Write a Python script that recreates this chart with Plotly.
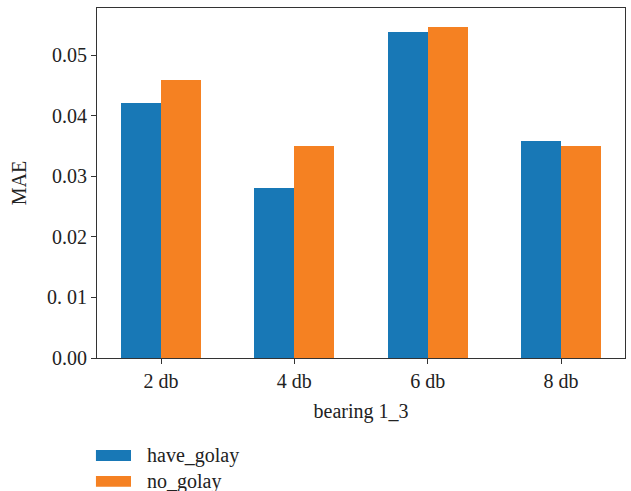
import plotly.graph_objects as go

# MAE per noise level, bearing 1_3
categories = ["2 db", "4 db", "6 db", "8 db"]
series_names = ["have_golay", "no_golay"]
have_golay = [0.0421, 0.0280, 0.0538, 0.0359]
no_golay = [0.0459, 0.0350, 0.0546, 0.0350]
y_tick_values = [0.00, 0.01, 0.02, 0.03, 0.04, 0.05]
y_tick_labels = ["0.00", "0. 01", "0.02", "0.03", "0.04", "0.05"]

colors = ["#1878b6", "#f58122"]
font_family = "Liberation Serif"
text_color = "#222222"
bar_w = 0.3

x_idx = list(range(len(categories)))

fig = go.Figure()
for name, vals, col, off in zip(series_names, [have_golay, no_golay], colors,
                                [-bar_w / 2, bar_w / 2]):
    fig.add_trace(go.Bar(
        x=[i + off for i in x_idx], y=vals, name=name, width=bar_w,
        marker=dict(color=col, line=dict(width=0)), showlegend=False,
    ))

axis_common = dict(showline=True, linecolor="#333333", linewidth=1.2, mirror=True,
                   ticks="outside", ticklen=5, tickwidth=1, tickcolor="#333333",
                   showgrid=False, zeroline=False,
                   tickfont=dict(family=font_family, size=20, color=text_color))

fig.update_xaxes(range=[-0.48, 3.48], tickvals=x_idx, ticktext=categories,
                 title=dict(text="bearing 1_3", standoff=12,
                            font=dict(family=font_family, size=20, color=text_color)),
                 **axis_common)
fig.update_yaxes(range=[0, 0.0578], tickvals=y_tick_values, ticktext=y_tick_labels,
                 title=dict(text="MAE", standoff=14,
                            font=dict(family=font_family, size=20, color=text_color)),
                 **axis_common)

# Legend drawn below the axes: wide swatches with labels
legend_rows = [(-0.263, -0.294), (-0.337, -0.368)]
for (y0, y1), name, col in zip(legend_rows, series_names, colors):
    fig.add_shape(type="rect", xref="paper", yref="paper",
                  x0=-0.002, x1=0.0644, y0=y0, y1=y1,
                  fillcolor=col, line=dict(width=0))
    fig.add_annotation(xref="paper", yref="paper", x=0.091, y=(y0 + y1) / 2,
                       text=name, showarrow=False, xanchor="left", yanchor="middle",
                       font=dict(family=font_family, size=20, color=text_color))

fig.update_layout(
    width=631, height=491,
    margin=dict(l=97, r=6, t=8, b=133),
    plot_bgcolor="white", paper_bgcolor="white",
    bargap=0,
)

fig.write_html("out.html")
